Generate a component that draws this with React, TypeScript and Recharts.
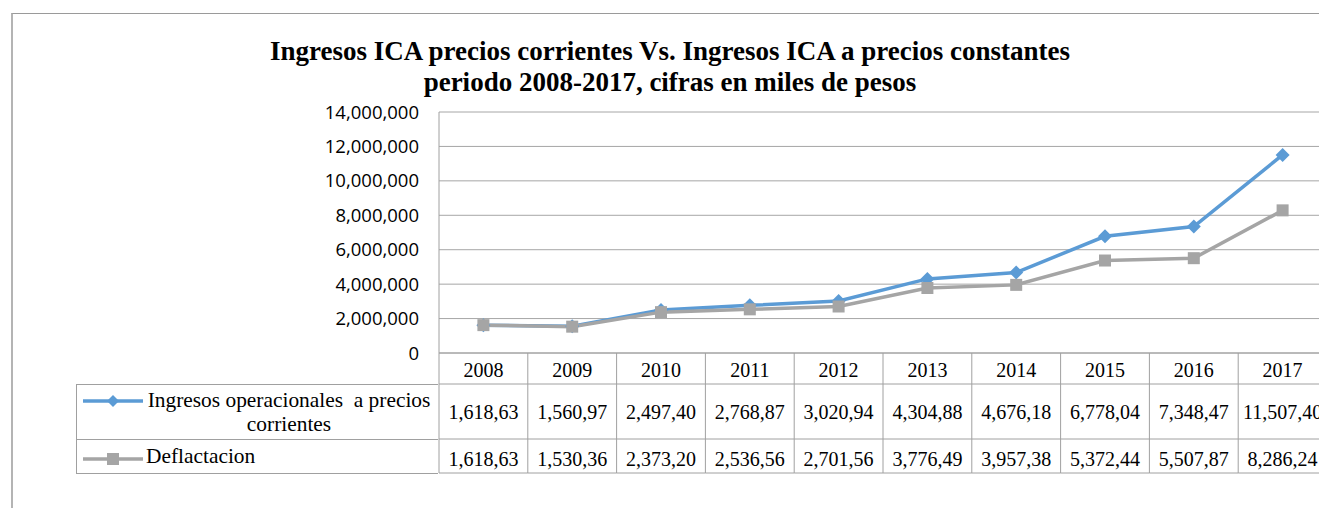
import React from 'react';
import { LineChart, Line, XAxis, YAxis, CartesianGrid } from 'recharts';

const years = ['2008', '2009', '2010', '2011', '2012', '2013', '2014', '2015', '2016', '2017'];
const ingresos = [1618630, 1560970, 2497400, 2768870, 3020940, 4304880, 4676180, 6778040, 7348470, 11507400];
const deflactacion = [1618630, 1530360, 2373200, 2536560, 2701560, 3776490, 3957380, 5372440, 5507870, 8286240];
const yTicks = [0, 2000000, 4000000, 6000000, 8000000, 10000000, 12000000, 14000000];

const data = years.map((year, i) => ({ year, ingresos: ingresos[i], deflactacion: deflactacion[i] }));

const BLUE = '#5b9bd5';
const GRAY = '#a5a5a5';
const BORDER = '#a0a0a0';
const SERIF = '"Liberation Serif", "Times New Roman", serif';

const CHART_W = 1330;
const CHART_H = 476;
const MARGIN = { top: 104, right: 11, left: 331, bottom: 10 };
const Y_W = 100;
const PLOT_W = CHART_W - MARGIN.left - Y_W - MARGIN.right;
const COL_W = PLOT_W / years.length;

// the data table shows the values cut to 8 characters
const cellText = (v: number) => v.toLocaleString('en-US').slice(0, -1);

const TableColumn = (props: any) => {
  const { x, y, payload } = props;
  const i = payload.index;
  const left = x - COL_W / 2;
  const right = x + COL_W / 2;
  const txt = { fontFamily: SERIF, fontSize: 20, fill: '#000', textAnchor: 'middle' as const };
  return (
    <g>
      {i === 0 && <line x1={left} x2={left} y1={y} y2={y + 120} stroke={BORDER} />}
      <line x1={right} x2={right} y1={y} y2={y + 120} stroke={BORDER} />
      <line x1={left} x2={right} y1={y + 31} y2={y + 31} stroke={BORDER} />
      <line x1={left} x2={right} y1={y + 86} y2={y + 86} stroke={BORDER} />
      <line x1={left} x2={right} y1={y + 120} y2={y + 120} stroke={BORDER} />
      <text x={x} y={y + 24} {...txt}>{payload.value}</text>
      <text x={x} y={y + 66} {...txt}>{cellText(ingresos[i])}</text>
      <text x={x} y={y + 113} {...txt}>{cellText(deflactacion[i])}</text>
    </g>
  );
};

const Diamond = (props: any) => {
  const { cx, cy, index } = props;
  if (cx == null || cy == null) return null;
  const r = 7;
  return <path key={index} d={`M${cx},${cy - r}L${cx + r},${cy}L${cx},${cy + r}L${cx - r},${cy}Z`} fill={BLUE} />;
};

const Square = (props: any) => {
  const { cx, cy, index } = props;
  if (cx == null || cy == null) return null;
  return <rect key={index} x={cx - 6} y={cy - 6} width={12} height={12} fill={GRAY} />;
};

const LegendIcon = ({ color, marker }: { color: string; marker: 'diamond' | 'square' }) => (
  <svg width={60} height={14} style={{ position: 'absolute', left: 6, top: -7 }}>
    <line x1={0} x2={60} y1={7} y2={7} stroke={color} strokeWidth={3.5} />
    {marker === 'diamond' ? (
      <path d="M30,1L36,7L30,13L24,7Z" fill={color} />
    ) : (
      <rect x={24} y={1} width={12} height={12} fill={color} />
    )}
  </svg>
);

export default function App() {
  return (
    <div style={{ position: 'relative', width: 1319, height: 508, overflow: 'hidden', background: '#fff' }}>
      <style>{'html,body{margin:0;padding:0;overflow:hidden;}'}</style>
      <div
        style={{
          position: 'absolute',
          left: 11,
          top: 13,
          width: 1400,
          height: 600,
          borderLeft: '2px solid #b4b4b4',
          borderTop: '1px solid #9a9a9a',
        }}
      />
      <div
        style={{
          position: 'absolute',
          left: 270,
          width: 800,
          top: 36,
          textAlign: 'center',
          fontFamily: SERIF,
          fontWeight: 700,
          fontSize: 27,
          lineHeight: '31px',
          color: '#000',
        }}
      >
        Ingresos ICA precios corrientes Vs. Ingresos ICA a precios constantes
        <br />
        periodo 2008-2017, cifras en miles de pesos
      </div>

      <div style={{ position: 'absolute', left: 8, top: 8 }}>
        <LineChart width={CHART_W} height={CHART_H} data={data} margin={MARGIN}>
          <CartesianGrid vertical={false} stroke="#a6a6a6" />
          <XAxis
            dataKey="year"
            height={121}
            interval={0}
            tickSize={0}
            tickMargin={0}
            tickLine={false}
            axisLine={{ stroke: BORDER }}
            padding={{ left: COL_W / 2, right: COL_W / 2 }}
            tick={(p: any) => <TableColumn {...p} />}
          />
          <YAxis
            width={Y_W}
            domain={[0, 14000000]}
            ticks={yTicks}
            interval={0}
            tickLine={false}
            tickSize={0}
            tickMargin={20}
            axisLine={{ stroke: BORDER }}
            tickFormatter={(v: number) => v.toLocaleString('en-US')}
            tick={{ fontFamily: '"Open Sans", sans-serif', fontSize: 18.5, fill: '#000' }}
          />
          <Line
            type="linear"
            dataKey="ingresos"
            stroke={BLUE}
            strokeWidth={3.5}
            dot={(p: any) => <Diamond {...p} />}
            activeDot={false}
            isAnimationActive={false}
          />
          <Line
            type="linear"
            dataKey="deflactacion"
            stroke={GRAY}
            strokeWidth={3.5}
            dot={(p: any) => <Square {...p} />}
            activeDot={false}
            isAnimationActive={false}
          />
        </LineChart>
      </div>

      {/* left header column of the data table, doubles as legend */}
      <div
        style={{
          position: 'absolute',
          left: 76,
          top: 384,
          width: 362,
          height: 55,
          borderLeft: `1px solid ${BORDER}`,
          borderTop: `1px solid ${BORDER}`,
          boxSizing: 'border-box',
        }}
      >
        <div style={{ position: 'absolute', left: 0, top: 16 }}>
          <LegendIcon color={BLUE} marker="diamond" />
        </div>
        <div
          style={{
            position: 'absolute',
            left: 66,
            top: 3,
            width: 292,
            textAlign: 'center',
            whiteSpace: 'pre',
            fontFamily: SERIF,
            fontSize: 21.4,
            lineHeight: '24px',
            color: '#000',
          }}
        >
          {'Ingresos operacionales  a precios\ncorrientes'}
        </div>
      </div>
      <div
        style={{
          position: 'absolute',
          left: 76,
          top: 439,
          width: 362,
          height: 35,
          borderLeft: `1px solid ${BORDER}`,
          borderTop: `1px solid ${BORDER}`,
          borderBottom: `1px solid ${BORDER}`,
          boxSizing: 'border-box',
        }}
      >
        <div style={{ position: 'absolute', left: 0, top: 19 }}>
          <LegendIcon color={GRAY} marker="square" />
        </div>
        <div
          style={{
            position: 'absolute',
            left: 69,
            top: 4,
            whiteSpace: 'pre',
            fontFamily: SERIF,
            fontSize: 21.4,
            lineHeight: '24px',
            color: '#000',
          }}
        >
          Deflactacion
        </div>
      </div>
    </div>
  );
}
